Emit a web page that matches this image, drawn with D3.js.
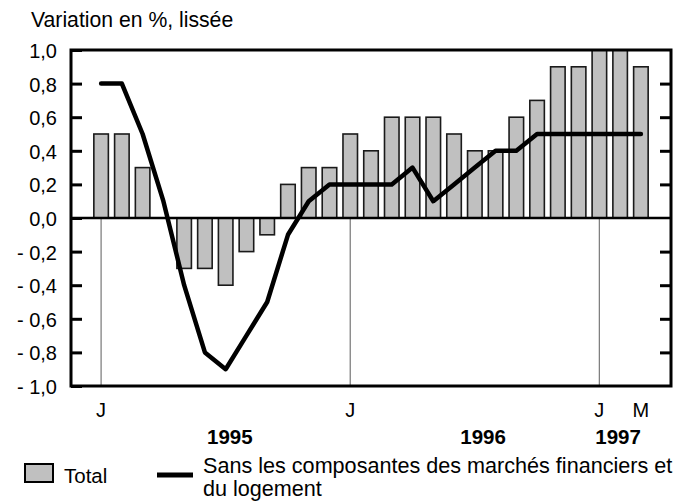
<!DOCTYPE html>
<html>
<head>
<meta charset="utf-8">
<script src="https://cdn.jsdelivr.net/npm/d3@7"></script>
<style>
  html, body { margin: 0; padding: 0; background: #fff; }
  text { font-family: "Liberation Sans", Arial, sans-serif; fill: #000; }
</style>
</head>
<body>
<svg id="chart" width="687" height="504"></svg>
<script>
// ---- data ----
const months = ["1995-01","1995-02","1995-03","1995-04","1995-05","1995-06","1995-07","1995-08","1995-09","1995-10","1995-11","1995-12",
                "1996-01","1996-02","1996-03","1996-04","1996-05","1996-06","1996-07","1996-08","1996-09","1996-10","1996-11","1996-12",
                "1997-01","1997-02","1997-03"];
const totalValues = [0.5,0.5,0.3,0.0,-0.3,-0.3,-0.4,-0.2,-0.1,0.2,0.3,0.3,
                     0.5,0.4,0.6,0.6,0.6,0.5,0.4,0.4,0.6,0.7,0.9,0.9,
                     1.0,1.0,0.9];
const coreValues = [0.8,0.8,0.5,0.1,-0.4,-0.8,-0.9,-0.7,-0.5,-0.1,0.1,0.2,
                    0.2,0.2,0.2,0.3,0.1,0.2,0.3,0.4,0.4,0.5,0.5,0.5,
                    0.5,0.5,0.5];
const yTicks = [1.0,0.8,0.6,0.4,0.2,0.0,-0.2,-0.4,-0.6,-0.8,-1.0];
const yTickLabels = ["1,0","0,8","0,6","0,4","0,2","0,0","- 0,2","- 0,4","- 0,6","- 0,8","- 1,0"];
const monthTicks = [{m:"1995-01",label:"J"},{m:"1996-01",label:"J"},{m:"1997-01",label:"J"},{m:"1997-03",label:"M"}];
const gridMonths = ["1995-01","1996-01","1997-01"];
const yearLabels = [{label:"1995", pos:6.2},{label:"1996", pos:18.4},{label:"1997", pos:24.9}];
const title = "Variation en %, lissée";
const legendTotal = "Total";
const legendCore = ["Sans les composantes des marchés financiers et","du logement"];

// ---- layout ----
const svg = d3.select("#chart");
const L = 71, R = 671, T = 50, B = 386;

const x = d3.scaleBand().domain(months).range([L, R]).paddingInner(0.3).paddingOuter(1.1);
const xc = m => x(m) + x.bandwidth() / 2;
const xi = i => xc(months[0]) + i * x.step();
const y = d3.scaleLinear().domain([-1, 1]).range([B, T]);

// title
svg.append("text").attr("x", 31).attr("y", 27).attr("font-size", 21.2).text(title);

// grid lines (vertical, gray) below zero
svg.append("g").selectAll("line").data(gridMonths).join("line")
  .attr("x1", d => xc(d)).attr("x2", d => xc(d))
  .attr("y1", y(0)).attr("y2", B)
  .attr("stroke", "#808080").attr("stroke-width", 1.3);

// bars
svg.append("g").selectAll("rect").data(months).join("rect")
  .attr("x", d => x(d))
  .attr("width", x.bandwidth())
  .attr("y", (d, i) => y(Math.max(0, totalValues[i])))
  .attr("height", (d, i) => Math.abs(y(totalValues[i]) - y(0)))
  .attr("fill", "#c0c0c0").attr("stroke", "#1a1a1a").attr("stroke-width", 1.6);

// zero line
svg.append("line").attr("x1", L).attr("x2", R).attr("y1", y(0)).attr("y2", y(0))
  .attr("stroke", "#000").attr("stroke-width", 2.6);

// line series
const line = d3.line().x((d, i) => xc(months[i])).y(d => y(d));
svg.append("path").datum(coreValues).attr("d", line)
  .attr("fill", "none").attr("stroke", "#000").attr("stroke-width", 4.5)
  .attr("stroke-linejoin", "round").attr("stroke-linecap", "round");

// frame
svg.append("rect").attr("x", L).attr("y", T).attr("width", R - L).attr("height", B - T)
  .attr("fill", "none").attr("stroke", "#000").attr("stroke-width", 3);

// y ticks (left, inward) and right inward ticks
const yAxisL = d3.axisRight(y).tickValues(yTicks).tickSize(11).tickFormat("");
const gL = svg.append("g").attr("transform", `translate(${L},0)`).call(yAxisL);
gL.select(".domain").remove();
gL.selectAll(".tick line").attr("stroke", "#000").attr("stroke-width", 3);

const yAxisR = d3.axisLeft(y).tickValues(yTicks.filter(v => v !== 1 && v !== -1 && v !== 0)).tickSize(11).tickFormat("");
const gR = svg.append("g").attr("transform", `translate(${R},0)`).call(yAxisR);
gR.select(".domain").remove();
gR.selectAll(".tick line").attr("stroke", "#000").attr("stroke-width", 3);

// y tick labels
svg.append("g").selectAll("text").data(yTicks).join("text")
  .attr("x", 57).attr("y", d => y(d)).attr("dy", "0.4em")
  .attr("text-anchor", "end").attr("font-size", 20)
  .attr("xml:space", "preserve").style("white-space", "pre")
  .text((d, i) => yTickLabels[i]);

// month labels
svg.append("g").selectAll("text").data(monthTicks).join("text")
  .attr("x", d => xc(d.m)).attr("y", 417).attr("text-anchor", "middle")
  .attr("font-size", 20).text(d => d.label);

// year labels
svg.append("g").selectAll("text").data(yearLabels).join("text")
  .attr("x", d => xi(d.pos)).attr("y", 444).attr("text-anchor", "middle")
  .attr("font-size", 20.5).attr("font-weight", "bold").text(d => d.label);

// legend
svg.append("rect").attr("x", 25).attr("y", 464).attr("width", 28).attr("height", 18)
  .attr("fill", "#c0c0c0").attr("stroke", "#000").attr("stroke-width", 2);
svg.append("text").attr("x", 64).attr("y", 483).attr("font-size", 20.5).text(legendTotal);
svg.append("line").attr("x1", 157).attr("x2", 193).attr("y1", 475).attr("y2", 475)
  .attr("stroke", "#000").attr("stroke-width", 5);
svg.append("g").selectAll("text").data(legendCore).join("text")
  .attr("x", 203).attr("y", (d, i) => 473 + i * 23).attr("font-size", 21.6).text(d => d);
</script>
</body>
</html>
